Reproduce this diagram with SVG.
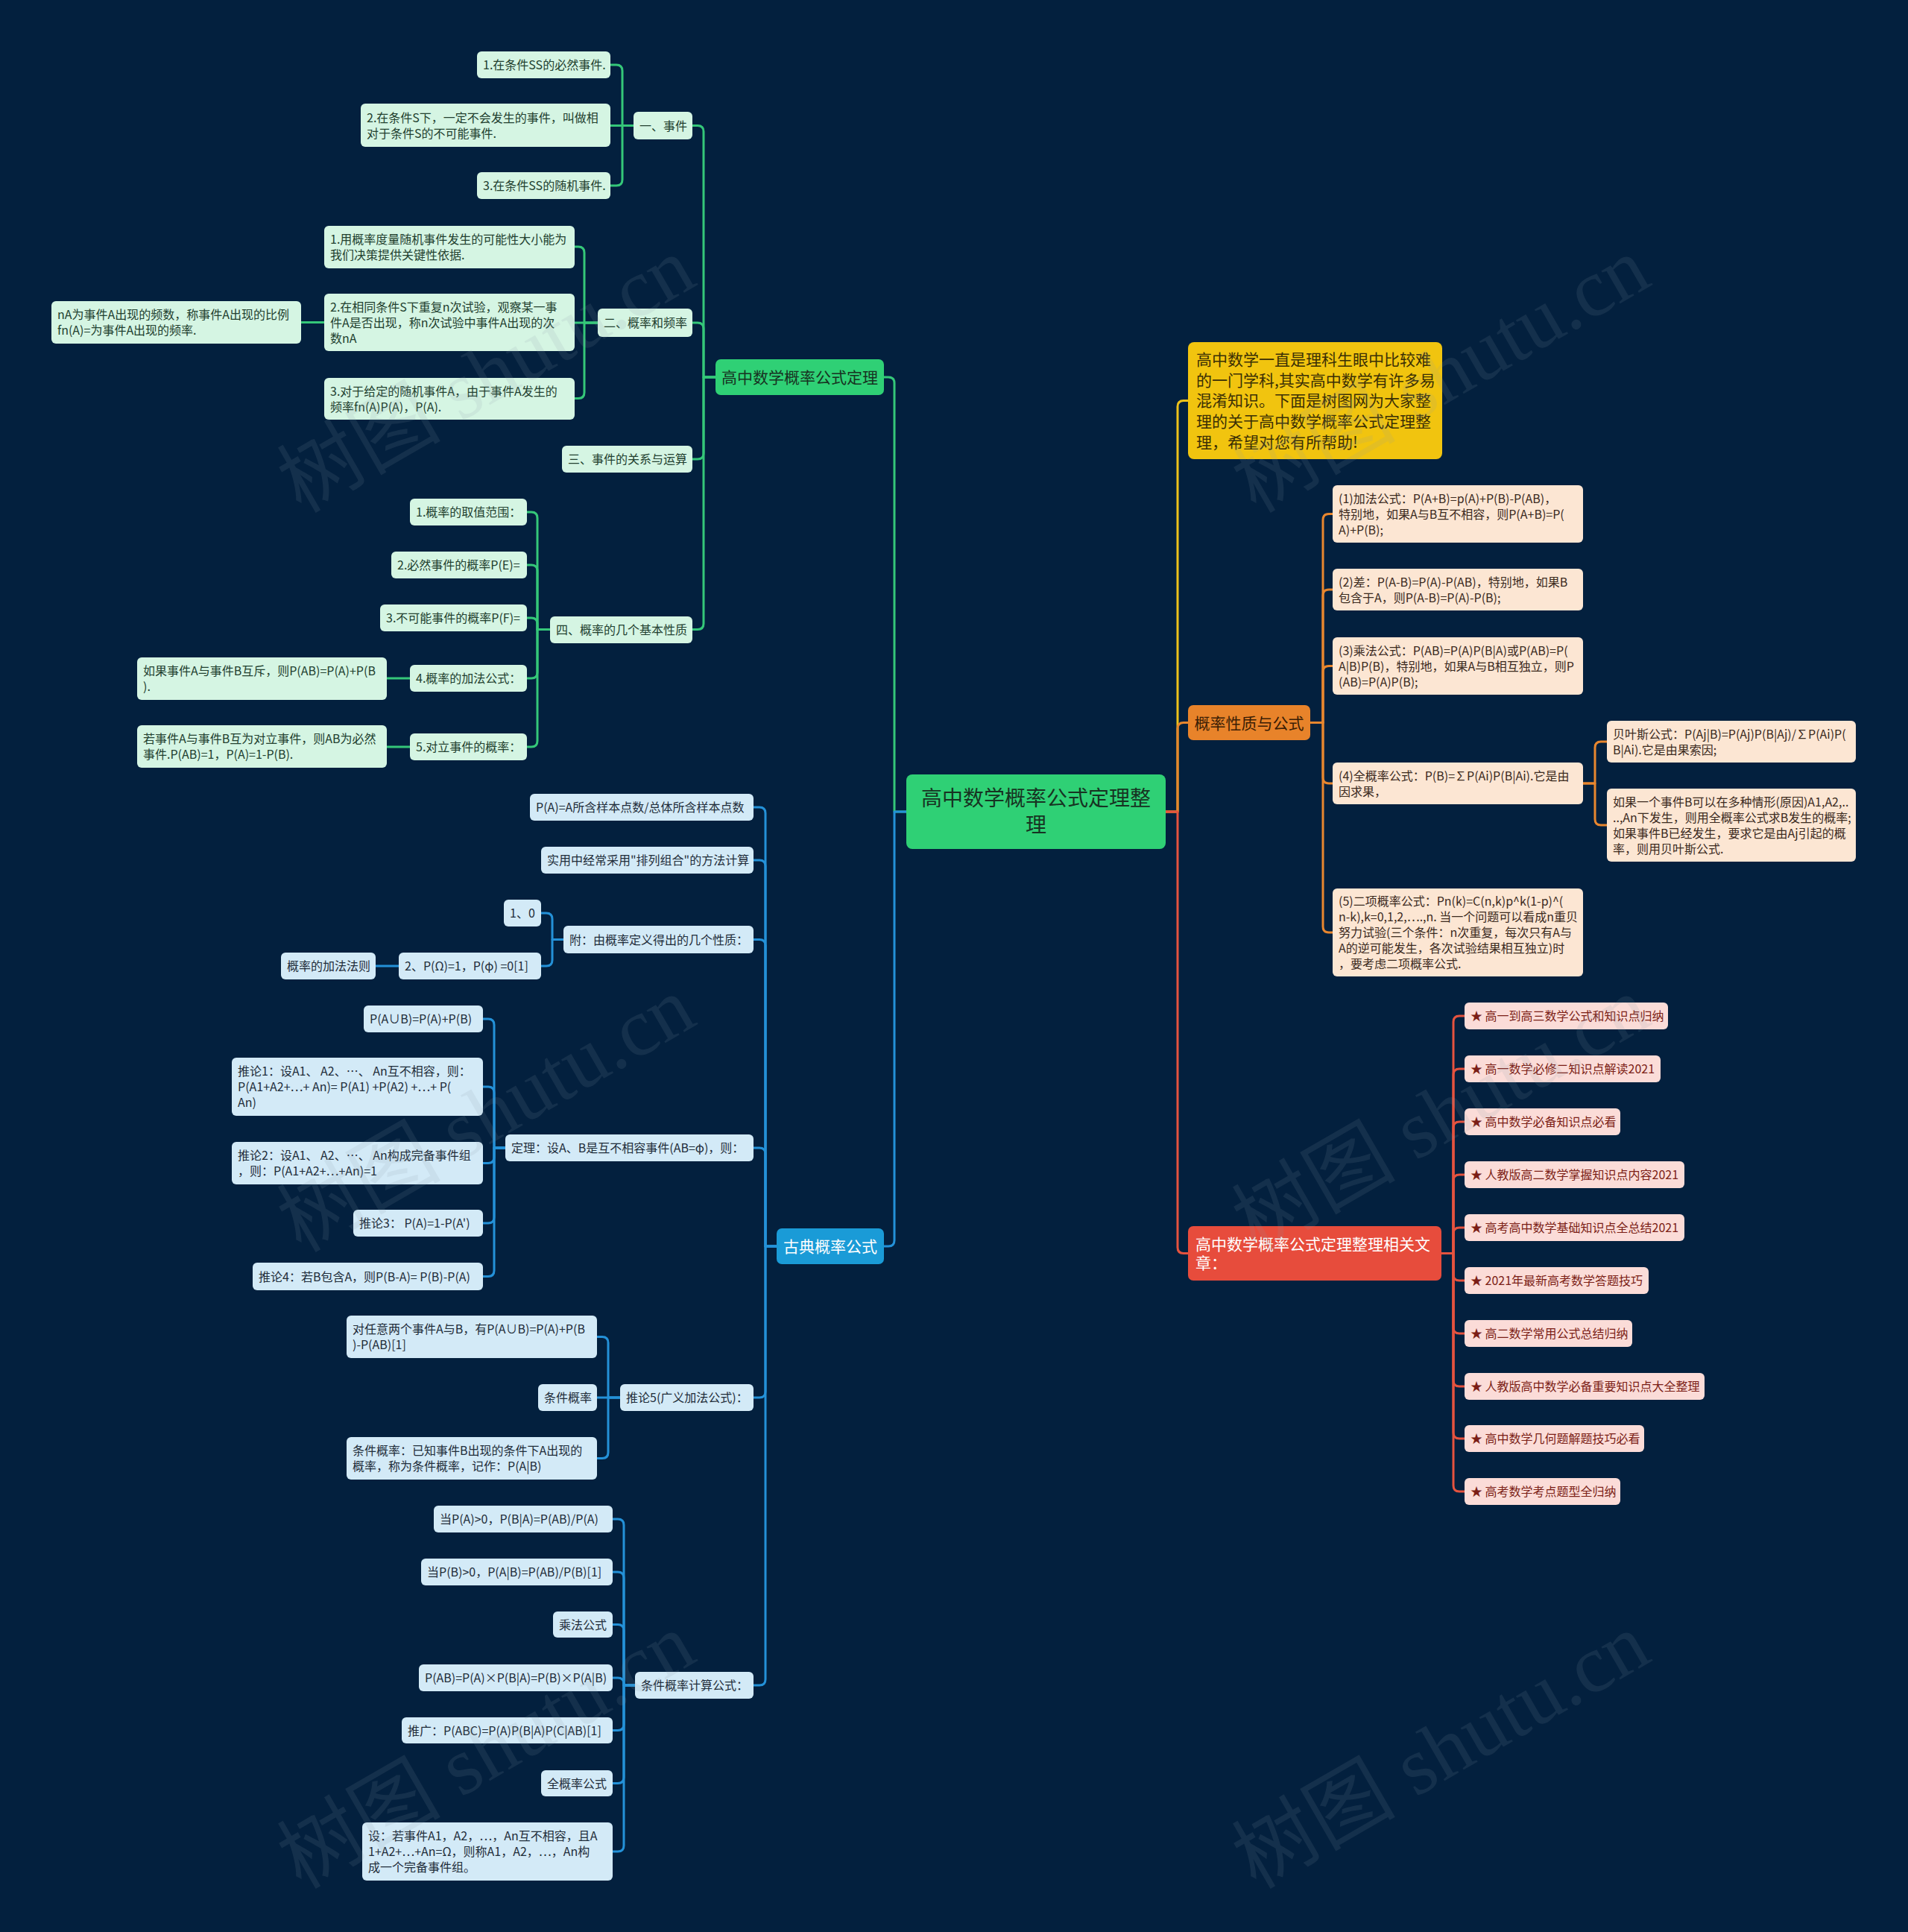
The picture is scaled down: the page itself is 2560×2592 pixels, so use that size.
<svg xmlns="http://www.w3.org/2000/svg" width="2560" height="2592" viewBox="0 0 2560 2592">
<style>
text{font-family:'Noto Sans CJK SC','Noto Sans',sans-serif}
.cn{fill:none;stroke-width:3;stroke-linecap:round;stroke-linejoin:round}
.cg{stroke:#35c779}.cb{stroke:#2491d8}.co{stroke:#e8862e}.cr{stroke:#e5533f}.cy{stroke:#eec21a}
.g3 rect{fill:#d5f5e3}.g3 text{fill:#22402f;font-size:16px}
.b3 rect{fill:#d3eaf7}.b3 text{fill:#1f2d3a;font-size:16px}
.o3 rect{fill:#fce6d3}.o3 text{fill:#3b2a1e;font-size:16px}
.r3 rect{fill:#fbdcd8}.r3 text{fill:#7b1e16;font-size:16px}
.l1 text{font-size:21px}
.wm{font-family:'Liberation Serif','Noto Sans CJK SC',serif;font-size:110px;fill:#8a9aa8;opacity:0.13}
</style>
<rect x="0" y="0" width="2560" height="2592" fill="#03203e"/>

<g id="connectors">
<path class="cn cg" d="M1216,1089 H1200 V514 Q1200,506 1192,506 H1186"/>
<path class="cn cb" d="M1216,1089 H1200 V1664 Q1200,1672 1192,1672 H1186"/>
<path class="cn cy" d="M1564,1089 H1580 V545.5 Q1580,537.5 1588,537.5 H1594"/>
<path class="cn co" d="M1564,1089 H1580 V977.5 Q1580,969.5 1588,969.5 H1594"/>
<path class="cn cr" d="M1564,1089 H1580 V1673.5 Q1580,1681.5 1588,1681.5 H1594"/>

<path class="cn cg" d="M960,506 H944 V176.5 Q944,168.5 936,168.5 H929"/>
<path class="cn cg" d="M960,506 H944 V441 Q944,433 936,433 H929"/>
<path class="cn cg" d="M960,506 H944 V608 Q944,616 936,616 H929"/>
<path class="cn cg" d="M960,506 H944 V836.5 Q944,844.5 936,844.5 H929"/>

<path class="cn cg" d="M850,168.5 H835 V95 Q835,87 827,87 H819"/>
<path class="cn cg" d="M850,168.5 H819"/>
<path class="cn cg" d="M850,168.5 H835 V241 Q835,249 827,249 H819"/>

<path class="cn cg" d="M802,433 H784 V339 Q784,331 776,331 H771"/>
<path class="cn cg" d="M802,433 H771"/>
<path class="cn cg" d="M802,433 H784 V526.5 Q784,534.5 776,534.5 H771"/>
<path class="cn cg" d="M435,432.5 H404"/>

<path class="cn cg" d="M738,844.5 H721 V695 Q721,687 713,687 H707"/>
<path class="cn cg" d="M738,844.5 H721 V766 Q721,758 713,758 H707"/>
<path class="cn cg" d="M738,844.5 H721 V837 Q721,829 713,829 H707"/>
<path class="cn cg" d="M738,844.5 H721 V902 Q721,910 713,910 H707"/>
<path class="cn cg" d="M738,844.5 H721 V994 Q721,1002 713,1002 H707"/>
<path class="cn cg" d="M550,910 H519"/>
<path class="cn cg" d="M550,1002 H519"/>

<path class="cn cb" d="M1042,1672 H1027 V1091 Q1027,1083 1019,1083 H1011"/>
<path class="cn cb" d="M1042,1672 H1027 V1162 Q1027,1154 1019,1154 H1011"/>
<path class="cn cb" d="M1042,1672 H1027 V1268.5 Q1027,1260.5 1019,1260.5 H1011"/>
<path class="cn cb" d="M1042,1672 H1027 V1548 Q1027,1540 1019,1540 H1011"/>
<path class="cn cb" d="M1042,1672 H1027 V1867 Q1027,1875 1019,1875 H1011"/>
<path class="cn cb" d="M1042,1672 H1027 V2253 Q1027,2261 1019,2261 H1011"/>

<path class="cn cb" d="M756,1260.5 H741 V1233 Q741,1225 733,1225 H726"/>
<path class="cn cb" d="M756,1260.5 H741 V1288 Q741,1296 733,1296 H726"/>
<path class="cn cb" d="M535,1296 H504"/>

<path class="cn cb" d="M678,1540 H663 V1375 Q663,1367 655,1367 H648"/>
<path class="cn cb" d="M678,1540 H663 V1466 Q663,1458 655,1458 H648"/>
<path class="cn cb" d="M678,1540 H663 V1552.5 Q663,1560.5 655,1560.5 H648"/>
<path class="cn cb" d="M678,1540 H663 V1633 Q663,1641 655,1641 H648"/>
<path class="cn cb" d="M678,1540 H663 V1704.5 Q663,1712.5 655,1712.5 H648"/>

<path class="cn cb" d="M832,1875 H816 V1801.5 Q816,1793.5 808,1793.5 H801"/>
<path class="cn cb" d="M832,1875 H801"/>
<path class="cn cb" d="M832,1875 H816 V1948.5 Q816,1956.5 808,1956.5 H801"/>

<path class="cn cb" d="M852,2261 H837 V2046 Q837,2038 829,2038 H822"/>
<path class="cn cb" d="M852,2261 H837 V2117 Q837,2109 829,2109 H822"/>
<path class="cn cb" d="M852,2261 H837 V2187.5 Q837,2179.5 829,2179.5 H822"/>
<path class="cn cb" d="M852,2261 H837 V2259 Q837,2251 829,2251 H822"/>
<path class="cn cb" d="M852,2261 H837 V2313.5 Q837,2321.5 829,2321.5 H822"/>
<path class="cn cb" d="M852,2261 H837 V2384.5 Q837,2392.5 829,2392.5 H822"/>
<path class="cn cb" d="M852,2261 H837 V2476 Q837,2484 829,2484 H822"/>

<path class="cn co" d="M1758,969.5 H1775 V697.5 Q1775,689.5 1783,689.5 H1788"/>
<path class="cn co" d="M1758,969.5 H1775 V799 Q1775,791 1783,791 H1788"/>
<path class="cn co" d="M1758,969.5 H1775 V901.5 Q1775,893.5 1783,893.5 H1788"/>
<path class="cn co" d="M1758,969.5 H1775 V1043 Q1775,1051 1783,1051 H1788"/>
<path class="cn co" d="M1758,969.5 H1775 V1243 Q1775,1251 1783,1251 H1788"/>
<path class="cn co" d="M2124,1051 H2140 V1003 Q2140,995 2148,995 H2156"/>
<path class="cn co" d="M2124,1051 H2140 V1099 Q2140,1107 2148,1107 H2156"/>

<path class="cn cr" d="M1934,1681.5 H1950 V1371 Q1950,1363 1958,1363 H1965"/>
<path class="cn cr" d="M1934,1681.5 H1950 V1442 Q1950,1434 1958,1434 H1965"/>
<path class="cn cr" d="M1934,1681.5 H1950 V1513 Q1950,1505 1958,1505 H1965"/>
<path class="cn cr" d="M1934,1681.5 H1950 V1584 Q1950,1576 1958,1576 H1965"/>
<path class="cn cr" d="M1934,1681.5 H1950 V1655 Q1950,1647 1958,1647 H1965"/>
<path class="cn cr" d="M1934,1681.5 H1950 V1710 Q1950,1718 1958,1718 H1965"/>
<path class="cn cr" d="M1934,1681.5 H1950 V1781 Q1950,1789 1958,1789 H1965"/>
<path class="cn cr" d="M1934,1681.5 H1950 V1852 Q1950,1860 1958,1860 H1965"/>
<path class="cn cr" d="M1934,1681.5 H1950 V1922 Q1950,1930 1958,1930 H1965"/>
<path class="cn cr" d="M1934,1681.5 H1950 V1993 Q1950,2001 1958,2001 H1965"/>
</g>

<g id="root"><rect x="1216" y="1039" width="348" height="100" rx="8" fill="#2fd075"/>
<text x="1390" font-size="28" fill="#173322" text-anchor="middle"><tspan x="1390" y="1081">高中数学概率公式定理整</tspan><tspan x="1390" y="1117">理</tspan></text></g>

<g id="n-green" class="l1"><rect x="960" y="482" width="226" height="48" rx="7" fill="#2fd075"/><text x="1073" y="514" text-anchor="middle" fill="#173322">高中数学概率公式定理</text></g>
<g id="n-blue" class="l1"><rect x="1042" y="1648" width="144" height="48" rx="7" fill="#1a9bd7"/><text x="1114" y="1680" text-anchor="middle" fill="#ffffff">古典概率公式</text></g>
<g id="n-yellow" class="l1"><rect x="1594" y="459" width="341" height="157" rx="8" fill="#f1c40f"/><text fill="#3a2f05"><tspan x="1605" y="490">高中数学一直是理科生眼中比较难</tspan><tspan x="1605" y="518">的一门学科,其实高中数学有许多易</tspan><tspan x="1605" y="545">混淆知识。下面是树图网为大家整</tspan><tspan x="1605" y="573">理的关于高中数学概率公式定理整</tspan><tspan x="1605" y="601">理，希望对您有所帮助!</tspan></text></g>
<g id="n-orange" class="l1"><rect x="1594" y="946" width="164" height="47" rx="7" fill="#e8832a"/><text x="1676" y="977.5" text-anchor="middle" fill="#3a1d05">概率性质与公式</text></g>
<g id="n-red" class="l1"><rect x="1594" y="1645" width="340" height="73" rx="7" fill="#e74c3c"/><text fill="#ffffff"><tspan x="1604" y="1677">高中数学概率公式定理整理相关文</tspan><tspan x="1604" y="1702">章：</tspan></text></g>

<g id="g1" class="g3"><rect x="640" y="69" width="179" height="36" rx="6"/><text x="648" y="93">1.在条件SS的必然事件.</text></g>
<g id="g2" class="g3"><rect x="484" y="139" width="335" height="58" rx="6"/><text><tspan x="492" y="163.5">2.在条件S下，一定不会发生的事件，叫做相</tspan><tspan x="492" y="184.5">对于条件S的不可能事件.</tspan></text></g>
<g id="g3" class="g3"><rect x="640" y="231" width="179" height="36" rx="6"/><text x="648" y="255">3.在条件SS的随机事件.</text></g>
<g id="g4" class="g3"><rect x="850" y="150" width="79" height="37" rx="6"/><text x="858" y="174.5">一、事件</text></g>
<g id="g5" class="g3"><rect x="435" y="303" width="336" height="57" rx="6"/><text><tspan x="443" y="327">1.用概率度量随机事件发生的可能性大小能为</tspan><tspan x="443" y="348">我们决策提供关键性依据.</tspan></text></g>
<g id="g6" class="g3"><rect x="435" y="394" width="336" height="77" rx="6"/><text><tspan x="443" y="417.5">2.在相同条件S下重复n次试验，观察某一事</tspan><tspan x="443" y="438.5">件A是否出现，称n次试验中事件A出现的次</tspan><tspan x="443" y="459.5">数nA</tspan></text></g>
<g id="g7" class="g3"><rect x="69" y="404" width="335" height="57" rx="6"/><text><tspan x="77" y="428">nA为事件A出现的频数，称事件A出现的比例</tspan><tspan x="77" y="449">fn(A)=为事件A出现的频率.</tspan></text></g>
<g id="g8" class="g3"><rect x="802" y="414" width="127" height="38" rx="6"/><text x="810" y="439">二、概率和频率</text></g>
<g id="g9" class="g3"><rect x="435" y="507" width="336" height="56" rx="6"/><text><tspan x="443" y="530.5">3.对于给定的随机事件A，由于事件A发生的</tspan><tspan x="443" y="551.5">频率fn(A)P(A)，P(A).</tspan></text></g>
<g id="g10" class="g3"><rect x="754" y="598" width="175" height="36" rx="6"/><text x="762" y="622">三、事件的关系与运算</text></g>
<g id="g11" class="g3"><rect x="550" y="669" width="157" height="36" rx="6"/><text x="558" y="693">1.概率的取值范围：</text></g>
<g id="g12" class="g3"><rect x="525" y="740" width="182" height="36" rx="6"/><text x="533" y="764">2.必然事件的概率P(E)=</text></g>
<g id="g13" class="g3"><rect x="510" y="811" width="197" height="36" rx="6"/><text x="518" y="835">3.不可能事件的概率P(F)=</text></g>
<g id="g14" class="g3"><rect x="738" y="827" width="191" height="36" rx="6"/><text x="746" y="851">四、概率的几个基本性质</text></g>
<g id="g15" class="g3"><rect x="550" y="892" width="157" height="36" rx="6"/><text x="558" y="916">4.概率的加法公式：</text></g>
<g id="g16" class="g3"><rect x="184" y="882" width="335" height="57" rx="6"/><text><tspan x="192" y="906">如果事件A与事件B互斥，则P(AB)=P(A)+P(B</tspan><tspan x="192" y="927">).</tspan></text></g>
<g id="g17" class="g3"><rect x="550" y="984" width="157" height="36" rx="6"/><text x="558" y="1008">5.对立事件的概率：</text></g>
<g id="g18" class="g3"><rect x="184" y="973" width="335" height="57" rx="6"/><text><tspan x="192" y="997">若事件A与事件B互为对立事件，则AB为必然</tspan><tspan x="192" y="1018">事件.P(AB)=1，P(A)=1-P(B).</tspan></text></g>

<g id="b1" class="b3"><rect x="711" y="1065" width="300" height="36" rx="6"/><text x="719" y="1089">P(A)=A所含样本点数/总体所含样本点数</text></g>
<g id="b2" class="b3"><rect x="726" y="1136" width="285" height="36" rx="6"/><text x="734" y="1160">实用中经常采用&quot;排列组合&quot;的方法计算</text></g>
<g id="b3" class="b3"><rect x="676" y="1207" width="50" height="36" rx="6"/><text x="684" y="1231">1、0</text></g>
<g id="b4" class="b3"><rect x="756" y="1242" width="255" height="37" rx="6"/><text x="764" y="1266.5">附：由概率定义得出的几个性质：</text></g>
<g id="b5" class="b3"><rect x="535" y="1278" width="191" height="36" rx="6"/><text x="543" y="1302">2、P(Ω)=1，P(φ) =0[1]</text></g>
<g id="b6" class="b3"><rect x="377" y="1278" width="127" height="36" rx="6"/><text x="385" y="1302">概率的加法法则</text></g>
<g id="b7" class="b3"><rect x="488" y="1349" width="160" height="36" rx="6"/><text x="496" y="1373">P(A∪B)=P(A)+P(B)</text></g>
<g id="b8" class="b3"><rect x="311" y="1419" width="337" height="78" rx="6"/><text><tspan x="319" y="1443">推论1：设A1、 A2、…、 An互不相容，则：</tspan><tspan x="319" y="1464">P(A1+A2+…+ An)= P(A1) +P(A2) +…+ P(</tspan><tspan x="319" y="1485">An)</tspan></text></g>
<g id="b9" class="b3"><rect x="311" y="1532" width="337" height="57" rx="6"/><text><tspan x="319" y="1556">推论2：设A1、 A2、…、 An构成完备事件组</tspan><tspan x="319" y="1577">，则：P(A1+A2+…+An)=1</tspan></text></g>
<g id="b10" class="b3"><rect x="474" y="1623" width="174" height="36" rx="6"/><text x="482" y="1647">推论3： P(A)=1-P(A')</text></g>
<g id="b11" class="b3"><rect x="339" y="1694" width="309" height="37" rx="6"/><text x="347" y="1718.5">推论4：若B包含A，则P(B-A)= P(B)-P(A)</text></g>
<g id="b12" class="b3"><rect x="678" y="1522" width="333" height="36" rx="6"/><text x="686" y="1546">定理：设A、B是互不相容事件(AB=φ)，则：</text></g>
<g id="b13" class="b3"><rect x="465" y="1765" width="336" height="57" rx="6"/><text><tspan x="473" y="1789">对任意两个事件A与B，有P(A∪B)=P(A)+P(B</tspan><tspan x="473" y="1810">)-P(AB)[1]</tspan></text></g>
<g id="b14" class="b3"><rect x="722" y="1857" width="79" height="36" rx="6"/><text x="730" y="1881">条件概率</text></g>
<g id="b15" class="b3"><rect x="465" y="1928" width="336" height="57" rx="6"/><text><tspan x="473" y="1952">条件概率：已知事件B出现的条件下A出现的</tspan><tspan x="473" y="1973">概率，称为条件概率，记作：P(A|B)</tspan></text></g>
<g id="b16" class="b3"><rect x="832" y="1857" width="179" height="36" rx="6"/><text x="840" y="1881">推论5(广义加法公式)：</text></g>
<g id="b17" class="b3"><rect x="582" y="2020" width="240" height="36" rx="6"/><text x="590" y="2044">当P(A)&gt;0，P(B|A)=P(AB)/P(A)</text></g>
<g id="b18" class="b3"><rect x="565" y="2091" width="257" height="36" rx="6"/><text x="573" y="2115">当P(B)&gt;0，P(A|B)=P(AB)/P(B)[1]</text></g>
<g id="b19" class="b3"><rect x="742" y="2162" width="80" height="35" rx="6"/><text x="750" y="2185.5">乘法公式</text></g>
<g id="b20" class="b3"><rect x="562" y="2233" width="260" height="36" rx="6"/><text x="570" y="2257">P(AB)=P(A)×P(B|A)=P(B)×P(A|B)</text></g>
<g id="b21" class="b3"><rect x="539" y="2304" width="283" height="35" rx="6"/><text x="547" y="2327.5">推广：P(ABC)=P(A)P(B|A)P(C|AB)[1]</text></g>
<g id="b22" class="b3"><rect x="726" y="2375" width="96" height="35" rx="6"/><text x="734" y="2398.5">全概率公式</text></g>
<g id="b23" class="b3"><rect x="486" y="2445" width="336" height="78" rx="6"/><text><tspan x="494" y="2469">设：若事件A1，A2，…，An互不相容，且A</tspan><tspan x="494" y="2490">1+A2+…+An=Ω，则称A1，A2，…，An构</tspan><tspan x="494" y="2511">成一个完备事件组。</tspan></text></g>
<g id="b24" class="b3"><rect x="852" y="2243" width="159" height="36" rx="6"/><text x="860" y="2267">条件概率计算公式：</text></g>

<g id="o1" class="o3"><rect x="1788" y="651" width="336" height="77" rx="6"/><text><tspan x="1796" y="674.5">(1)加法公式：P(A+B)=p(A)+P(B)-P(AB)，</tspan><tspan x="1796" y="695.5">特别地，如果A与B互不相容，则P(A+B)=P(</tspan><tspan x="1796" y="716.5">A)+P(B);</tspan></text></g>
<g id="o2" class="o3"><rect x="1788" y="763" width="336" height="56" rx="6"/><text><tspan x="1796" y="786.5">(2)差：P(A-B)=P(A)-P(AB)，特别地，如果B</tspan><tspan x="1796" y="807.5">包含于A，则P(A-B)=P(A)-P(B);</tspan></text></g>
<g id="o3" class="o3"><rect x="1788" y="855" width="336" height="77" rx="6"/><text><tspan x="1796" y="878.5">(3)乘法公式：P(AB)=P(A)P(B|A)或P(AB)=P(</tspan><tspan x="1796" y="899.5">A|B)P(B)，特别地，如果A与B相互独立，则P</tspan><tspan x="1796" y="920.5">(AB)=P(A)P(B);</tspan></text></g>
<g id="o4" class="o3"><rect x="1788" y="1023" width="336" height="56" rx="6"/><text><tspan x="1796" y="1046.5">(4)全概率公式：P(B)=∑P(Ai)P(B|Ai).它是由</tspan><tspan x="1796" y="1067.5">因求果，</tspan></text></g>
<g id="o5" class="o3"><rect x="1788" y="1192" width="336" height="118" rx="6"/><text><tspan x="1796" y="1215">(5)二项概率公式：Pn(k)=C(n,k)p^k(1-p)^(</tspan><tspan x="1796" y="1236">n-k),k=0,1,2,….,n. 当一个问题可以看成n重贝</tspan><tspan x="1796" y="1257">努力试验(三个条件：n次重复，每次只有A与</tspan><tspan x="1796" y="1278">A的逆可能发生，各次试验结果相互独立)时</tspan><tspan x="1796" y="1299">，要考虑二项概率公式.</tspan></text></g>
<g id="o6" class="o3"><rect x="2156" y="967" width="334" height="56" rx="6"/><text><tspan x="2164" y="990.5">贝叶斯公式：P(Aj|B)=P(Aj)P(B|Aj)/∑P(Ai)P(</tspan><tspan x="2164" y="1011.5">B|Ai).它是由果索因;</tspan></text></g>
<g id="o7" class="o3"><rect x="2156" y="1058" width="334" height="98" rx="6"/><text><tspan x="2164" y="1081.5">如果一个事件B可以在多种情形(原因)A1,A2,..</tspan><tspan x="2164" y="1102.5">..,An下发生，则用全概率公式求B发生的概率;</tspan><tspan x="2164" y="1123.5">如果事件B已经发生，要求它是由Aj引起的概</tspan><tspan x="2164" y="1144.5">率，则用贝叶斯公式.</tspan></text></g>

<g id="r1" class="r3"><rect x="1965" y="1345" width="273" height="36" rx="6"/><text x="1973" y="1369">★ 高一到高三数学公式和知识点归纳</text></g>
<g id="r2" class="r3"><rect x="1965" y="1416" width="263" height="36" rx="6"/><text x="1973" y="1440">★ 高一数学必修二知识点解读2021</text></g>
<g id="r3" class="r3"><rect x="1965" y="1487" width="209" height="36" rx="6"/><text x="1973" y="1511">★ 高中数学必备知识点必看</text></g>
<g id="r4" class="r3"><rect x="1965" y="1558" width="295" height="36" rx="6"/><text x="1973" y="1582">★ 人教版高二数学掌握知识点内容2021</text></g>
<g id="r5" class="r3"><rect x="1965" y="1629" width="295" height="36" rx="6"/><text x="1973" y="1653">★ 高考高中数学基础知识点全总结2021</text></g>
<g id="r6" class="r3"><rect x="1965" y="1700" width="247" height="36" rx="6"/><text x="1973" y="1724">★ 2021年最新高考数学答题技巧</text></g>
<g id="r7" class="r3"><rect x="1965" y="1771" width="225" height="36" rx="6"/><text x="1973" y="1795">★ 高二数学常用公式总结归纳</text></g>
<g id="r8" class="r3"><rect x="1965" y="1842" width="322" height="36" rx="6"/><text x="1973" y="1866">★ 人教版高中数学必备重要知识点大全整理</text></g>
<g id="r9" class="r3"><rect x="1965" y="1912" width="241" height="36" rx="6"/><text x="1973" y="1936">★ 高中数学几何题解题技巧必看</text></g>
<g id="r10" class="r3"><rect x="1965" y="1983" width="209" height="36" rx="6"/><text x="1973" y="2007">★ 高考数学考点题型全归纳</text></g>

<g id="watermarks">
<text class="wm" x="653" y="540" text-anchor="middle" transform="rotate(-30 653 504)">树图 shutu.cn</text>
<text class="wm" x="1934" y="540" text-anchor="middle" transform="rotate(-30 1934 504)">树图 shutu.cn</text>
<text class="wm" x="653" y="1532" text-anchor="middle" transform="rotate(-30 653 1496)">树图 shutu.cn</text>
<text class="wm" x="1934" y="1532" text-anchor="middle" transform="rotate(-30 1934 1496)">树图 shutu.cn</text>
<text class="wm" x="653" y="2386" text-anchor="middle" transform="rotate(-30 653 2350)">树图 shutu.cn</text>
<text class="wm" x="1934" y="2386" text-anchor="middle" transform="rotate(-30 1934 2350)">树图 shutu.cn</text>
</g>
</svg>
